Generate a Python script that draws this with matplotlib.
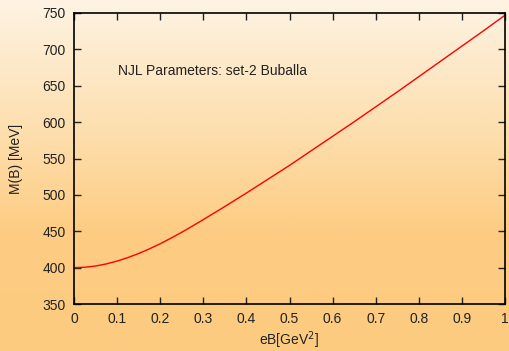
import numpy as np
import matplotlib.pyplot as plt
from matplotlib.colors import LinearSegmentedColormap

# values
eB = [0.0, 0.025, 0.05, 0.075, 0.1, 0.125, 0.15, 0.175, 0.2, 0.225, 0.25,
      0.275, 0.3, 0.35, 0.4, 0.45, 0.5, 0.55, 0.6, 0.65, 0.7, 0.75,
      0.8, 0.85, 0.9, 0.95, 1.0]
mass = [400, 400.5, 402.2, 405.1, 409, 413.8, 419.4, 425.8, 432.8, 440.5, 448.6,
        457.2, 466, 484, 502.5, 521.5, 540.5, 560.5, 580.5, 600.5, 621, 641.5,
        662.5, 683.5, 704.5, 725.5, 747]

xticks = [0, 0.1, 0.2, 0.3, 0.4, 0.5, 0.6, 0.7, 0.8, 0.9, 1]
xtick_labels = ["0", "0.1", "0.2", "0.3", "0.4", "0.5", "0.6", "0.7", "0.8", "0.9", "1"]
yticks = [350, 400, 450, 500, 550, 600, 650, 700, 750]

plt.rcParams['font.family'] = ['Liberation Sans', 'DejaVu Sans']
plt.rcParams['font.size'] = 10

fig = plt.figure(figsize=(5.09, 3.51), dpi=100)

# gradient background for the whole figure
bg = fig.add_axes([0, 0, 1, 1], zorder=0)
cmap = LinearSegmentedColormap.from_list("bg", ["#fef3e3", "#fde1b4", "#fdcc82", "#fdcb80"],)
grad = np.linspace(0, 1, 256).reshape(-1, 1)
bg.imshow(grad, aspect="auto", cmap=cmap, extent=[0, 1, 0, 1], origin="upper")
bg.axis("off")

ax = fig.add_axes([74/509, 1-304/351, 431/509, 291/351], zorder=1)
ax.patch.set_alpha(0)

ax.plot(eB, mass, color="#ff0000", lw=1.0)

ax.set_xlim(0, 1)
ax.set_ylim(350, 750)
ax.set_xticks(xticks)
ax.set_xticklabels(xtick_labels)
ax.set_yticks(yticks)
ax.tick_params(direction="in", length=5, width=1, top=True, right=True, pad=6, colors="#222222")
ax.tick_params(labelcolor="#222222")
for s in ax.spines.values():
    s.set_linewidth(1.2)
    s.set_color("black")

ax.set_xlabel("eB[GeV$^2$]", labelpad=2, color="#222222")
ax.set_ylabel("M(B) [MeV]", labelpad=14, color="#222222")
ax.text(0.102, 0.80, "NJL Parameters: set-2 Buballa", transform=ax.transAxes,
        va="center", ha="left", color="#222222")

fig.savefig("out.png", dpi=100)
